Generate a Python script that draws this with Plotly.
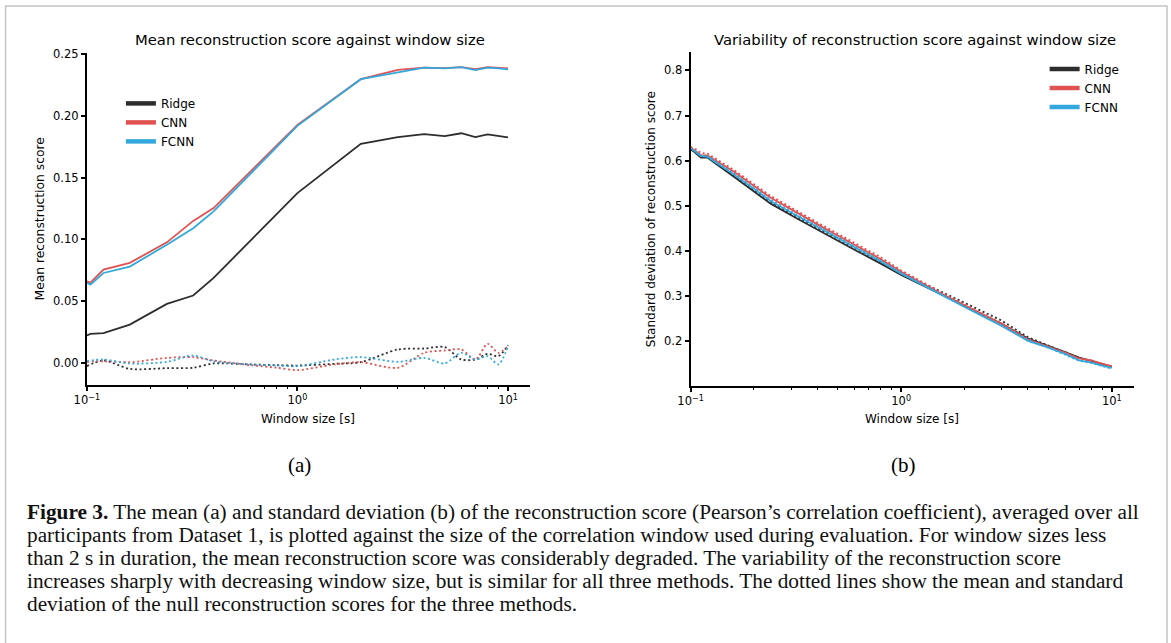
import plotly.graph_objects as go

W, H = 1171, 643

# ---------------- data ----------------
METHODS = ["Ridge", "CNN", "FCNN"]
COLORS = {"Ridge": "#2d2d2d", "CNN": "#e05252", "FCNN": "#33a8dd"}

# (a) mean reconstruction score
MEAN_X = [0.1, 0.104, 0.12, 0.16, 0.24, 0.32, 0.4, 1, 2, 3, 4, 5, 6, 7, 8, 9, 10]
MEAN_RIDGE = [0.0221, 0.0235, 0.0240, 0.0310, 0.0477, 0.0545, 0.0688, 0.1375, 0.1774,
              0.1828, 0.1853, 0.1836, 0.1860, 0.1828, 0.1850, 0.1835, 0.1826]
MEAN_CNN = [0.0660, 0.0650, 0.0755, 0.0810, 0.0976, 0.1150, 0.1254, 0.1928, 0.2298,
            0.2373, 0.2392, 0.2387, 0.2395, 0.2380, 0.2395, 0.2390, 0.2385]
MEAN_FCNN = [0.0650, 0.0634, 0.0728, 0.0780, 0.0957, 0.1090, 0.1227, 0.1920, 0.2298,
             0.2354, 0.2392, 0.2385, 0.2395, 0.2372, 0.2392, 0.2385, 0.2378]

# (a) null mean reconstruction score (dotted)
NULL_X = [0.1, 0.12, 0.16, 0.24, 0.32, 0.4, 0.6, 0.8, 1, 1.5, 2, 3, 4, 5, 6, 7, 8, 9, 10]
NULL_MEAN_RIDGE = [-0.0027, 0.0019, -0.0049, -0.0043, -0.0040, -0.0005, -0.0013, -0.0019,
                   -0.0022, -0.0008, 0.0005, 0.0108, 0.0116, 0.0127, 0.0027, 0.0027,
                   0.0073, 0.0054, 0.0143]
NULL_MEAN_CNN = [0.0008, 0.0013, 0.0005, 0.0040, 0.0046, 0.0019, -0.0019, -0.0040,
                 -0.0059, -0.0013, 0.0005, -0.0040, 0.0081, 0.0100, 0.0108, 0.0027,
                 0.0154, 0.0081, 0.0135]
NULL_MEAN_FCNN = [0.0013, 0.0027, -0.0005, 0.0008, 0.0059, 0.0013, -0.0013, -0.0022,
                  -0.0027, 0.0027, 0.0046, 0.0008, 0.0040, -0.0005, 0.0081, 0.0027,
                  0.0054, -0.0013, 0.0135]

# (b) standard deviation of reconstruction score
STD_X = [0.1, 0.104, 0.112, 0.12, 0.16, 0.24, 0.32, 0.4, 0.6, 0.8, 1.0, 1.5, 2, 3, 4,
         5, 6, 7, 8, 9, 10]
STD_RIDGE = [0.625, 0.620, 0.607, 0.607, 0.565, 0.505, 0.472, 0.447, 0.403, 0.372,
             0.347, 0.307, 0.279, 0.239, 0.206, 0.190, 0.176, 0.164, 0.157, 0.150, 0.144]
STD_CNN = [0.628, 0.624, 0.612, 0.612, 0.576, 0.518, 0.485, 0.459, 0.414, 0.382,
           0.354, 0.309, 0.280, 0.238, 0.204, 0.189, 0.175, 0.162, 0.158, 0.150, 0.145]
STD_FCNN = [0.627, 0.622, 0.610, 0.609, 0.570, 0.511, 0.478, 0.453, 0.409, 0.377,
            0.350, 0.306, 0.276, 0.234, 0.201, 0.186, 0.172, 0.158, 0.153, 0.146, 0.141]
NULL_STD_RIDGE = [0.626, 0.621, 0.609, 0.609, 0.568, 0.509, 0.476, 0.451, 0.407, 0.376,
                  0.351, 0.313, 0.285, 0.246, 0.209, 0.191, 0.176, 0.163, 0.157, 0.149, 0.143]
NULL_STD_CNN = [0.630, 0.628, 0.617, 0.616, 0.580, 0.522, 0.489, 0.463, 0.418, 0.386,
                0.357, 0.312, 0.282, 0.240, 0.205, 0.188, 0.175, 0.162, 0.157, 0.150, 0.144]
NULL_STD_FCNN = [0.627, 0.623, 0.611, 0.610, 0.572, 0.513, 0.480, 0.455, 0.410, 0.378,
                 0.351, 0.307, 0.277, 0.236, 0.203, 0.186, 0.171, 0.157, 0.152, 0.145, 0.139]

X_TICKVALS = [0.1, 1, 10]
X_TICKTEXT = ["10<sup>\u22121</sup>", "10<sup>0</sup>", "10<sup>1</sup>"]
X_MINOR = [0.2, 0.3, 0.4, 0.5, 0.6, 0.7, 0.8, 0.9, 2, 3, 4, 5, 6, 7, 8, 9]
YA_TICKS = [0.0, 0.05, 0.10, 0.15, 0.20, 0.25]
YB_TICKS = [0.2, 0.3, 0.4, 0.5, 0.6, 0.7, 0.8]

TITLE_A = "Mean reconstruction score against window size"
TITLE_B = "Variability of reconstruction score against window size"
XLABEL = "Window size [s]"
YLABEL_A = "Mean reconstruction score"
YLABEL_B = "Standard deviation of reconstruction score"
CAPTION = [
    "<b>Figure 3.</b> The mean (a) and standard deviation (b) of the reconstruction score (Pearson\u2019s correlation coefficient), averaged over all",
    "participants from Dataset 1, is plotted against the size of the correlation window used during evaluation. For window sizes less",
    "than 2 s in duration, the mean reconstruction score was considerably degraded. The variability of the reconstruction score",
    "increases sharply with decreasing window size, but is similar for all three methods. The dotted lines show the mean and standard",
    "deviation of the null reconstruction scores for the three methods.",
]

# ---------------- figure ----------------
# empirical correction of the rendered placement (target pixel -> layout pixel)
OX, SX = 15.4, 0.986
OY, SY = 5.0, 0.9934


def px(x):
    return ((x - OX) / SX) / W


def py(y):
    return 1 - ((y - OY) / SY) / H


SANS = "DejaVu Sans"
SERIF = "Liberation Serif"

fig = go.Figure()

mean_sets = {"Ridge": MEAN_RIDGE, "CNN": MEAN_CNN, "FCNN": MEAN_FCNN}
null_mean_sets = {"Ridge": NULL_MEAN_RIDGE, "CNN": NULL_MEAN_CNN, "FCNN": NULL_MEAN_FCNN}
std_sets = {"Ridge": STD_RIDGE, "CNN": STD_CNN, "FCNN": STD_FCNN}
null_std_sets = {"Ridge": NULL_STD_RIDGE, "CNN": NULL_STD_CNN, "FCNN": NULL_STD_FCNN}

DOT = "2px,2.6px"

for m in METHODS:
    c = COLORS[m]
    fig.add_trace(go.Scatter(x=MEAN_X, y=mean_sets[m], mode="lines",
                             line=dict(color=c, width=1.8), showlegend=False,
                             xaxis="x", yaxis="y"))
    fig.add_trace(go.Scatter(x=NULL_X, y=null_mean_sets[m], mode="lines",
                             line=dict(color=c, width=1.8, dash=DOT, shape="spline",
                                       smoothing=0.8),
                             showlegend=False, xaxis="x", yaxis="y"))
    fig.add_trace(go.Scatter(x=STD_X, y=std_sets[m], mode="lines",
                             line=dict(color=c, width=1.8), showlegend=False,
                             xaxis="x2", yaxis="y2"))
    fig.add_trace(go.Scatter(x=STD_X, y=null_std_sets[m], mode="lines",
                             line=dict(color=c, width=1.8, dash=DOT),
                             showlegend=False, xaxis="x2", yaxis="y2"))

# legend-only handles (thicker lines, like the reference)
for m in METHODS:
    fig.add_trace(go.Scatter(x=[None], y=[None], mode="lines", name=m,
                             line=dict(color=COLORS[m], width=4.5),
                             legend="legend", xaxis="x", yaxis="y"))
    fig.add_trace(go.Scatter(x=[None], y=[None], mode="lines", name=m,
                             line=dict(color=COLORS[m], width=4.5),
                             legend="legend2", xaxis="x2", yaxis="y2"))

axis_common = dict(
    showgrid=False, zeroline=False, showline=True, linecolor="black", linewidth=2,
    ticks="outside", ticklen=4, tickwidth=1.5, tickcolor="black",
    tickfont=dict(family=SANS, size=11.5, color="black"),
)

xa = dict(axis_common, type="log", range=[-1, 1.105], tickvals=X_TICKVALS,
          ticktext=X_TICKTEXT,
          minor=dict(tickvals=X_MINOR, ticks="outside", ticklen=2.5, tickwidth=1,
                     tickcolor="black"))

fig.update_layout(
    width=W, height=H,
    margin=dict(l=0, r=0, t=0, b=0),
    paper_bgcolor="white", plot_bgcolor="white",
    font=dict(family=SANS, size=11, color="black"),
    xaxis=dict(xa, domain=[px(89), px(531)], anchor="y"),
    yaxis=dict(axis_common, domain=[py(385), py(52.7)], range=[-0.0176, 0.2513],
               tickvals=YA_TICKS, ticktext=[f"{v:.2f}" for v in YA_TICKS], anchor="x"),
    xaxis2=dict(xa, domain=[px(691), px(1133)], anchor="y2"),
    yaxis2=dict(axis_common, domain=[py(386), py(52)], range=[0.102, 0.841],
                tickvals=YB_TICKS, ticktext=[f"{v:.1f}" for v in YB_TICKS], anchor="x2"),
    legend=dict(x=px(123), y=py(89), xanchor="left", yanchor="top",
                font=dict(family=SANS, size=12, color="black"),
                bgcolor="rgba(0,0,0,0)", itemwidth=30, tracegroupgap=0),
    legend2=dict(x=px(1044), y=py(54.5), xanchor="left", yanchor="top",
                 font=dict(family=SANS, size=12, color="black"),
                 bgcolor="rgba(0,0,0,0)", itemwidth=30, tracegroupgap=0),
    showlegend=True,
)

ann = []
def text(x, y, s, size, family=SANS, xanchor="center", angle=0, color="black"):
    ann.append(dict(x=px(x), y=py(y), xref="paper", yref="paper", text=s,
                    showarrow=False, xanchor=xanchor, yanchor="middle",
                    textangle=angle, font=dict(family=family, size=size, color=color)))

text(312, 40, TITLE_A, 14.8)
text(915, 40, TITLE_B, 14.8)
text(310, 419, XLABEL, 12)
text(912, 419, XLABEL, 12)
text(42, 219, YLABEL_A, 12.3, angle=-90)
text(651, 219, YLABEL_B, 12, angle=-90)
text(301, 466, "(a)", 21, family=SERIF)
text(903, 466, "(b)", 21, family=SERIF)
for i, line in enumerate(CAPTION):
    text(27, 513 + 23 * i, line, 21.3, family=SERIF, xanchor="left", color="#111")

fig.update_layout(annotations=ann)

# figure frame
fig.add_shape(type="rect", xref="paper", yref="paper",
              x0=px(8), x1=px(1166), y0=-0.05, y1=py(6),
              line=dict(color="#c4c4c4", width=1.5), fillcolor="rgba(0,0,0,0)",
              layer="below")

fig.write_html(
    "out.html",
    config={"displayModeBar": False},
    post_script="document.body.style.margin='0';document.body.style.overflow='hidden';",
)
